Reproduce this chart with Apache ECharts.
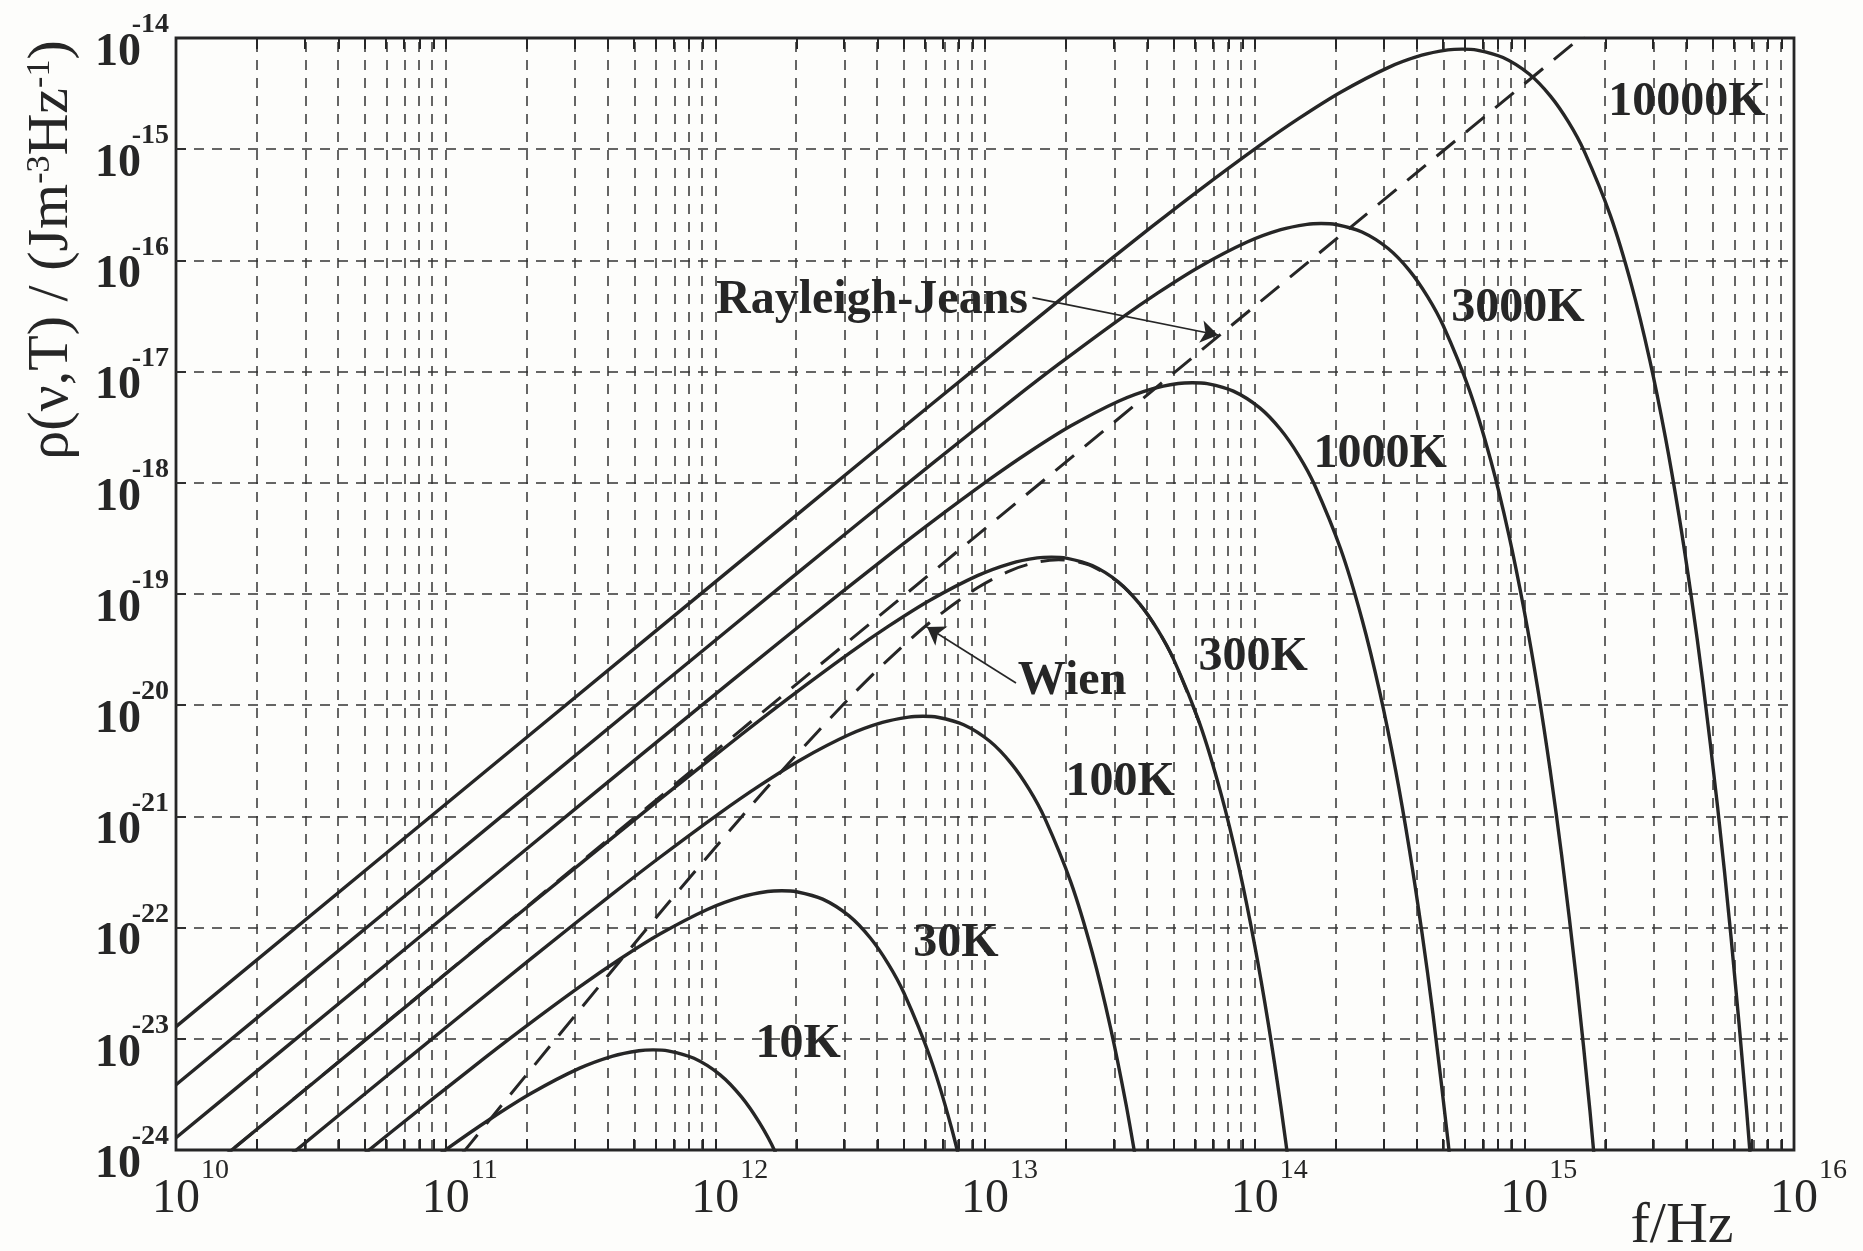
<!DOCTYPE html>
<html>
<head>
<meta charset="utf-8">
<script src="https://cdn.jsdelivr.net/npm/echarts@6/dist/echarts.min.js"></script>
<style>
html,body{margin:0;padding:0;background:#fdfdfb;}
#chart{width:1863px;height:1251px;}
</style>
</head>
<body>
<div id="chart"></div>
<script>
// ---------- tick labels ----------
const xTickExponents = ['10','11','12','13','14','15','16'];          // 10^10 ... 10^16 Hz
const yTickExponents = ['-24','-23','-22','-21','-20','-19','-18','-17','-16','-15','-14'];

// ---------- curve data: [frequency (Hz), rho (J m^-3 Hz^-1)] ----------
const planck10000K = [[1e10,1.288e-23],[2.084e11,5.589e-21],[2.084e12,5.563e-19],[6.251e12,4.957e-18],[2.084e13,5.32e-17],[4.167e13,2.020e-16],[6.251e13,4.315e-16],[1.042e14,1.077e-15],[1.459e14,1.892e-15],[2.084e14,3.254e-15],[3.126e14,5.420e-15],[4.167e14,7.000e-15],[5.209e14,7.813e-15],[5.876e14,7.947e-15],[6.668e14,7.786e-15],[8.335e14,6.677e-15],[1.042e15,4.741e-15],[1.250e15,3.001e-15],[1.459e15,1.750e-15],[1.667e15,9.605e-16],[2.084e15,2.539e-16],[2.500e15,5.934e-17],[2.917e15,1.276e-17],[3.334e15,2.577e-18],[3.751e15,4.966e-19],[4.167e15,9.22e-20],[4.584e15,1.661e-20],[5.209e15,1.213e-21],[5.834e15,8.49e-23],[6.668e15,2.319e-24],[7.501e15,6.05e-26]];
const planck3000K = [[1e10,3.864e-24],[6.251e10,1.509e-22],[6.251e11,1.502e-20],[1.875e12,1.338e-19],[6.251e12,1.436e-18],[1.250e13,5.455e-18],[1.875e13,1.165e-17],[3.126e13,2.910e-17],[4.376e13,5.108e-17],[6.251e13,8.786e-17],[9.376e13,1.463e-16],[1.250e14,1.890e-16],[1.563e14,2.110e-16],[1.763e14,2.146e-16],[2.000e14,2.102e-16],[2.500e14,1.803e-16],[3.126e14,1.280e-16],[3.751e14,8.102e-17],[4.376e14,4.726e-17],[5.001e14,2.594e-17],[6.251e14,6.855e-18],[7.501e14,1.602e-18],[8.752e14,3.445e-19],[1.000e15,6.958e-20],[1.125e15,1.341e-20],[1.250e15,2.489e-21],[1.375e15,4.485e-22],[1.563e15,3.276e-23],[1.750e15,2.291e-24],[2.000e15,6.26e-26]];
const planck1000K = [[1e10,1.288e-24],[2.084e10,5.589e-24],[2.084e11,5.563e-22],[6.251e11,4.957e-21],[2.084e12,5.32e-20],[4.167e12,2.020e-19],[6.251e12,4.315e-19],[1.042e13,1.077e-18],[1.459e13,1.892e-18],[2.084e13,3.254e-18],[3.126e13,5.420e-18],[4.167e13,7.000e-18],[5.209e13,7.813e-18],[5.876e13,7.947e-18],[6.668e13,7.786e-18],[8.335e13,6.677e-18],[1.042e14,4.741e-18],[1.250e14,3.001e-18],[1.459e14,1.750e-18],[1.667e14,9.605e-19],[2.084e14,2.539e-19],[2.500e14,5.934e-20],[2.917e14,1.276e-20],[3.334e14,2.577e-21],[3.751e14,4.966e-22],[4.167e14,9.22e-23],[4.584e14,1.661e-23],[5.209e14,1.213e-24],[5.834e14,8.49e-26]];
const planck300K = [[1e10,3.864e-25],[6.251e10,1.502e-23],[1.875e11,1.338e-22],[6.251e11,1.436e-21],[1.250e12,5.455e-21],[1.875e12,1.165e-20],[3.126e12,2.910e-20],[4.376e12,5.108e-20],[6.251e12,8.786e-20],[9.376e12,1.463e-19],[1.250e13,1.890e-19],[1.563e13,2.110e-19],[1.763e13,2.146e-19],[2.000e13,2.102e-19],[2.500e13,1.803e-19],[3.126e13,1.280e-19],[3.751e13,8.102e-20],[4.376e13,4.726e-20],[5.001e13,2.594e-20],[6.251e13,6.855e-21],[7.501e13,1.602e-21],[8.752e13,3.445e-22],[1.000e14,6.958e-23],[1.125e14,1.341e-23],[1.250e14,2.489e-24],[1.375e14,4.485e-25]];
const planck100K = [[1e10,1.288e-25],[2.084e10,5.563e-25],[6.251e10,4.957e-24],[2.084e11,5.32e-23],[4.167e11,2.020e-22],[6.251e11,4.315e-22],[1.042e12,1.077e-21],[1.459e12,1.892e-21],[2.084e12,3.254e-21],[3.126e12,5.420e-21],[4.167e12,7.000e-21],[5.209e12,7.813e-21],[5.876e12,7.947e-21],[6.668e12,7.786e-21],[8.335e12,6.677e-21],[1.042e13,4.741e-21],[1.250e13,3.001e-21],[1.459e13,1.750e-21],[1.667e13,9.605e-22],[2.084e13,2.539e-22],[2.500e13,5.934e-23],[2.917e13,1.276e-23],[3.334e13,2.577e-24],[3.751e13,4.966e-25]];
const planck30K = [[1e10,3.864e-26],[1.875e10,1.338e-25],[6.251e10,1.436e-24],[1.250e11,5.455e-24],[1.875e11,1.165e-23],[3.126e11,2.910e-23],[4.376e11,5.108e-23],[6.251e11,8.786e-23],[9.376e11,1.463e-22],[1.250e12,1.890e-22],[1.563e12,2.110e-22],[1.763e12,2.146e-22],[2.000e12,2.102e-22],[2.500e12,1.803e-22],[3.126e12,1.280e-22],[3.751e12,8.102e-23],[4.376e12,4.726e-23],[5.001e12,2.594e-23],[6.251e12,6.855e-24],[7.501e12,1.602e-24],[8.752e12,3.445e-25]];
const planck10K = [[1e10,1.26e-26],[2.084e10,5.32e-26],[4.167e10,2.020e-25],[6.251e10,4.315e-25],[1.042e11,1.077e-24],[1.459e11,1.892e-24],[2.084e11,3.254e-24],[3.126e11,5.420e-24],[4.167e11,7.000e-24],[5.209e11,7.813e-24],[5.876e11,7.947e-24],[6.668e11,7.786e-24],[8.335e11,6.677e-24],[1.042e12,4.741e-24],[1.250e12,3.001e-24],[1.459e12,1.750e-24],[1.667e12,9.605e-25],[2.084e12,2.539e-25]];
const wien300K = [[6.251e10,1.495e-25],[1.250e11,1.184e-24],[3.126e11,1.795e-23],[6.251e11,1.366e-22],[1.250e12,9.888e-22],[1.875e12,3.020e-21],[3.126e12,1.145e-20],[4.376e12,2.572e-20],[6.251e12,5.554e-20],[9.376e12,1.137e-19],[1.250e13,1.635e-19],[1.563e13,1.936e-19],[1.875e13,2.029e-19],[2.188e13,1.955e-19],[2.500e13,1.770e-19],[3.126e13,1.272e-19],[3.751e13,8.083e-20],[4.376e13,4.722e-20],[5.001e13,2.593e-20],[6.251e13,6.854e-21]];
const rayleighJeans300K = [[1e10,3.864e-25],[2e15,1.546e-14]];

// ---------- text annotations (anchors in log10 units of the axes) ----------
const annotations = [
  {text:'10000K', lx:15.603, ly:-14.585},
  {text:'3000K', lx:14.976, ly:-16.430},
  {text:'1000K', lx:14.465, ly:-17.750},
  {text:'300K', lx:13.994, ly:-19.575},
  {text:'100K', lx:13.501, ly:-20.700},
  {text:'30K', lx:12.892, ly:-22.140},
  {text:'10K', lx:12.307, ly:-23.050},
  {text:'Rayleigh-Jeans', lx:12.581, ly:-16.360},
  {text:'Wien', lx:13.323, ly:-19.785}
];
const arrows = [
  {from:[13.176,-16.335], to:[13.864,-16.671]},
  {from:[13.115,-19.800], to:[12.785,-19.297]}
];

const INK = '#262626';
const GRID = '#333333';
const SERIF = "'Liberation Serif','DejaVu Serif','Times New Roman',serif";
const L = Math.log10;
const toXY = pts => pts.map(p => [L(p[0]), L(p[1])]);

const minorX = [];
for (let n = 10; n < 16; n++) {
  for (let k = 1; k <= 9; k++) {
    if (n === 10 && k === 1) continue;
    minorX.push(n + L(k));
  }
}
const yDecades = [];
for (let e = -23; e <= -15; e++) yDecades.push(e);

const curves = [
  ['10000K', planck10000K], ['3000K', planck3000K], ['1000K', planck1000K],
  ['300K', planck300K], ['100K', planck100K], ['30K', planck30K], ['10K', planck10K]
];

const series = curves.map(([name, pts]) => ({
  type: 'line', name, data: toXY(pts), smooth: 0.3, symbol: 'none', showSymbol: false,
  clip: true, silent: true, z: 3,
  lineStyle: {color: INK, width: 3.4}
}));
series.push({
  type: 'line', name: 'Wien', data: toXY(wien300K), smooth: 0.3, symbol: 'none', clip: true, silent: true, z: 3,
  lineStyle: {color: INK, width: 3, type: [24, 14]}
});
series.push({
  type: 'line', name: 'Rayleigh-Jeans', data: toXY(rayleighJeans300K), symbol: 'none', clip: true, silent: true, z: 3,
  lineStyle: {color: INK, width: 3, type: [24, 14]}
});
// grid lines
series.push({
  type: 'line', data: [], silent: true,
  markLine: {
    silent: true, symbol: ['none','none'], label: {show: false}, animation: false, z: 1,
    lineStyle: {color: GRID, width: 1.5, type: [10, 8]},
    emphasis: {disabled: true},
    data: minorX.map(x => ({xAxis: x})).concat(yDecades.map(y => ({yAxis: y})))
  }
});
// ticks at top & bottom
const tickSegs = [];
minorX.forEach(x => {
  tickSegs.push([{coord: [x, -24]}, {coord: [x, -23.9]}]);
  tickSegs.push([{coord: [x, -14]}, {coord: [x, -14.1]}]);
});
series.push({
  type: 'line', data: [], silent: true,
  markLine: {
    silent: true, symbol: ['none','none'], label: {show: false}, animation: false, z: 2,
    lineStyle: {color: INK, width: 2, type: 'solid'},
    emphasis: {disabled: true},
    data: tickSegs
  }
});
// arrows
series.push({
  type: 'line', data: [], silent: true,
  markLine: {
    silent: true, symbol: ['none','arrow'], symbolSize: 17, label: {show: false}, animation: false, z: 4,
    lineStyle: {color: INK, width: 1.6, type: 'solid'},
    emphasis: {disabled: true},
    data: arrows.map(a => [{coord: a.from}, {coord: a.to}])
  }
});
// text labels
series.push({
  type: 'line', data: [], silent: true,
  markPoint: {
    silent: true, symbol: 'circle', symbolSize: 1, animation: false, z: 5,
    itemStyle: {color: 'rgba(0,0,0,0)'},
    emphasis: {disabled: true},
    label: {show: true, position: 'inside', color: INK, fontFamily: SERIF, fontWeight: 'bold', fontSize: 48},
    data: annotations.map(a => ({coord: [a.lx, a.ly], label: {formatter: a.text}}))
  }
});

const baseX = {type: 'value', min: 10, max: 16, interval: 1, axisLine: {show: false}, axisTick: {show: false}, splitLine: {show: false}};
const baseY = {type: 'value', min: -24, max: -14, interval: 1, axisLine: {show: false}, splitLine: {show: false}, position: 'left'};

const chart = echarts.init(document.getElementById('chart'), null, {renderer: 'canvas'});
chart.setOption({
  backgroundColor: '#fdfdfb',
  animation: false,
  grid: {left: 176, top: 38, width: 1618, height: 1112, show: true, borderColor: INK, borderWidth: 2.8, backgroundColor: 'rgba(0,0,0,0)'},
  xAxis: [
    Object.assign({}, baseX, {
      axisLabel: {margin: 25, color: INK, fontFamily: SERIF, fontSize: 48, formatter: () => '10'}
    }),
    Object.assign({}, baseX, {
      position: 'bottom',
      axisLabel: {margin: 7, color: INK, fontFamily: SERIF, fontSize: 28, align: 'left', padding: [0,0,0,25],
        formatter: v => xTickExponents[Math.round(v) - 10]}
    })
  ],
  yAxis: [
    Object.assign({}, baseY, {
      axisTick: {show: true, inside: true, length: 10, lineStyle: {color: INK, width: 2}},
      axisLabel: {margin: 35, color: INK, fontFamily: SERIF, fontSize: 46, fontWeight: 'bold',
        verticalAlign: 'top', lineHeight: 30, formatter: () => '10'}
    }),
    Object.assign({}, baseY, {
      axisTick: {show: false},
      axisLabel: {margin: 7, color: INK, fontFamily: SERIF, fontSize: 28, fontWeight: 'bold',
        verticalAlign: 'bottom', lineHeight: 26,
        formatter: v => yTickExponents[Math.round(v) + 24]}
    })
  ],
  graphic: [
    {
      type: 'text', x: 52, y: 250, rotation: Math.PI / 2, silent: true,
      style: {
        text: '{t|ρ(ν,T) / (Jm}{s|-3}{t|Hz}{s|-1}{t|)}',
        align: 'center', verticalAlign: 'middle', fill: INK,
        rich: {
          t: {fontSize: 58, lineHeight: 58, fontFamily: SERIF, fill: INK, verticalAlign: 'bottom'},
          s: {fontSize: 34, lineHeight: 34, fontFamily: SERIF, fill: INK, verticalAlign: 'top', padding: [0,0,26,0]}
        }
      }
    },
    {
      type: 'text', x: 1682, y: 1227, silent: true,
      style: {text: 'f/Hz', font: "58px 'Liberation Serif', serif", fill: INK, align: 'center', verticalAlign: 'middle'}
    }
  ],
  series
});
</script>
</body>
</html>
